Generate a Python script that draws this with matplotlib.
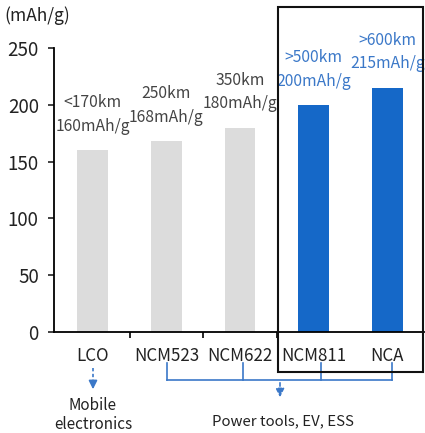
import matplotlib.pyplot as plt
from matplotlib.patches import Rectangle

plt.rcParams['font.family'] = ['Noto Sans CJK KR', 'DejaVu Sans']

cathodes = ['LCO', 'NCM523', 'NCM622', 'NCM811', 'NCA']
capacity = [160, 168, 180, 200, 215]
ranges = ['<170km', '250km', '350km', '>500km', '>600km']
highlight = [False, False, False, True, True]
yticks = [0, 50, 100, 150, 200, 250]

gray = '#dcdcdc'
blue = '#1568c8'
txt_gray = '#444444'
txt_blue = '#3b78c8'

fig = plt.figure(figsize=(4.25, 4.33), dpi=100)
ax = fig.add_axes([54/425, 1-332/433, 1-54/425-1/425, (332-48)/433])

x = list(range(len(cathodes)))
colors = [blue if h else gray for h in highlight]
ax.bar(x, capacity, width=0.42, color=colors, zorder=2)

for xi, cap, rg, h in zip(x, capacity, ranges, highlight):
    c = txt_blue if h else txt_gray
    ax.annotate(f'{rg}\n{cap}mAh/g', (xi, cap), xytext=(0, 11),
                textcoords='offset points', ha='center', va='bottom',
                fontsize=11.3, color=c, linespacing=1.5)

ax.set_xlim(-0.527, 4.5)
ax.set_ylim(0, 250)
ax.set_yticks(yticks)
ax.tick_params(axis='y', labelsize=13.5, length=4, width=1.2, pad=7, colors='#222222')
ax.set_xticks(x)
ax.set_xticklabels(cathodes)
ax.tick_params(axis='x', length=0, labelsize=12.2, pad=11, colors='#222222')
ax.set_xticks([0.5, 1.5, 2.5], minor=True)
ax.tick_params(axis='x', which='minor', length=4, width=1.2)
for s in ['top', 'right']:
    ax.spines[s].set_visible(False)
for s in ['left', 'bottom']:
    ax.spines[s].set_linewidth(1.3)

fig.text(4/425, 1-16/433, '(mAh/g)', fontsize=12.5, va='center', color='#222222')

# box around the high-nickel cathodes
fig.patches.append(Rectangle((278/425, 1-372/433), (423-278)/425, (372-7)/433,
                             transform=fig.transFigure, fill=False,
                             edgecolor='#111111', linewidth=1.5, zorder=5))

# application annotations below the axis
def fx(px):
    return px/425
def fy(py):
    return 1-py/433

lw = 1.2
fig.add_artist(plt.Line2D([fx(93), fx(93)], [fy(368), fy(382)], color=txt_blue,
                          lw=lw, linestyle=(0, (2, 1.5))))
fig.add_artist(plt.Line2D([fx(167), fx(392)], [fy(380), fy(380)], color=txt_blue, lw=lw))
for px in [167, 243, 321, 392]:
    fig.add_artist(plt.Line2D([fx(px), fx(px)], [fy(363), fy(380)], color=txt_blue, lw=lw))
ax.annotate('', xy=(fx(93), fy(392)), xytext=(fx(93), fy(380)), xycoords='figure fraction',
            arrowprops=dict(arrowstyle='-|>,head_width=0.25,head_length=0.5', color=txt_blue, lw=lw))
ax.annotate('', xy=(fx(280), fy(400)), xytext=(fx(280), fy(380)), xycoords='figure fraction',
            arrowprops=dict(arrowstyle='-|>,head_width=0.25,head_length=0.5', color=txt_blue,
                            lw=lw, linestyle=(0, (2, 1.5))))
fig.text(fx(93), fy(415), 'Mobile\nelectronics', ha='center', va='center',
         fontsize=11, color='#222222', linespacing=1.1)
fig.text(fx(283), fy(421), 'Power tools, EV, ESS', ha='center', va='center',
         fontsize=10.8, color='#222222')

fig.savefig('out.png', dpi=100)
